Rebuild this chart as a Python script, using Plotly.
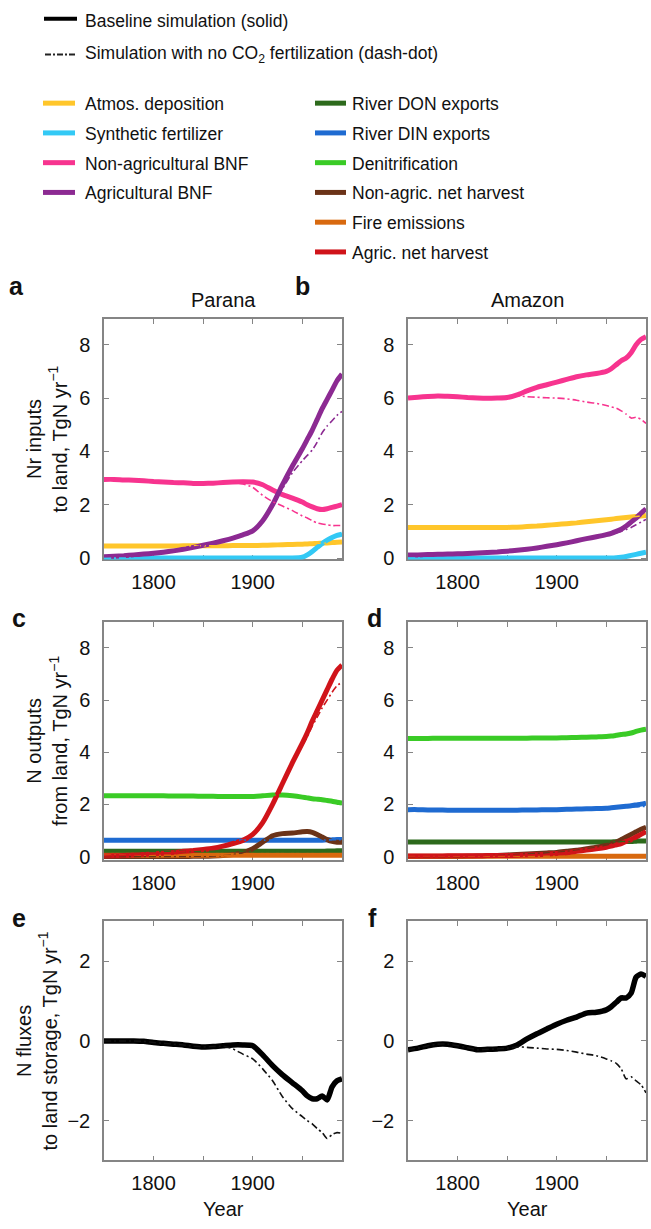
import plotly.graph_objects as go

W, H = 651, 1229

YEARS = [1750, 1760, 1770, 1780, 1790, 1800, 1810, 1820, 1830, 1840, 1850, 1860, 1870, 1880, 1890,
         1900, 1910, 1920, 1930, 1940, 1950, 1955, 1960, 1965, 1970, 1975, 1980, 1985, 1990]

# ---------------- Panel a: Parana inputs ----------------
atm_a = [0.45, 0.45, 0.45, 0.45, 0.45, 0.45, 0.45, 0.45, 0.46, 0.46, 0.46, 0.46, 0.46, 0.47, 0.47,
         0.47, 0.48, 0.49, 0.50, 0.51, 0.52, 0.53, 0.54, 0.55, 0.56, 0.57, 0.58, 0.59, 0.60]
syn_a = [0, 0, 0, 0, 0, 0, 0, 0, 0, 0, 0, 0, 0, 0, 0,
         0, 0, 0, 0, 0, 0.03, 0.12, 0.25, 0.40, 0.55, 0.67, 0.77, 0.85, 0.90]
nbnf_a = [2.95, 2.95, 2.93, 2.92, 2.90, 2.87, 2.85, 2.83, 2.82, 2.80, 2.80, 2.81, 2.83, 2.85, 2.86,
          2.85, 2.75, 2.55, 2.38, 2.25, 2.10, 2.00, 1.92, 1.85, 1.82, 1.85, 1.90, 1.95, 2.00]
nbnf_a_nc = [2.95, 2.95, 2.93, 2.92, 2.90, 2.87, 2.85, 2.83, 2.82, 2.80, 2.80, 2.81, 2.83, 2.84, 2.78,
             2.65, 2.35, 2.12, 1.95, 1.78, 1.58, 1.50, 1.40, 1.32, 1.28, 1.25, 1.22, 1.22, 1.22]
abnf_a = [0.05, 0.07, 0.09, 0.12, 0.15, 0.18, 0.22, 0.27, 0.33, 0.40, 0.48, 0.56, 0.65, 0.75, 0.87,
          1.02, 1.40, 2.00, 2.75, 3.45, 4.10, 4.45, 4.80, 5.20, 5.60, 5.95, 6.30, 6.65, 6.90]
abnf_a_nc = [0.05, 0.07, 0.09, 0.12, 0.15, 0.18, 0.22, 0.27, 0.33, 0.40, 0.48, 0.56, 0.65, 0.75, 0.87,
             1.02, 1.40, 2.00, 2.60, 3.20, 3.65, 3.85, 4.05, 4.35, 4.70, 4.95, 5.15, 5.35, 5.50]

# ---------------- Panel b: Amazon inputs ----------------
atm_b = [1.15, 1.15, 1.15, 1.15, 1.15, 1.15, 1.15, 1.15, 1.15, 1.15, 1.15, 1.16, 1.18, 1.20, 1.23,
         1.26, 1.29, 1.32, 1.36, 1.40, 1.44, 1.46, 1.48, 1.50, 1.52, 1.54, 1.56, 1.58, 1.60]
syn_b = [0, 0, 0, 0, 0, 0, 0, 0, 0, 0, 0, 0, 0, 0, 0,
         0, 0, 0, 0, 0, 0, 0, 0.01, 0.03, 0.06, 0.10, 0.14, 0.18, 0.22]
nbnf_b = [6.00, 6.03, 6.06, 6.08, 6.07, 6.05, 6.02, 6.00, 5.99, 6.00, 6.02, 6.12, 6.27, 6.40, 6.50,
          6.60, 6.70, 6.80, 6.87, 6.92, 7.00, 7.10, 7.25, 7.40, 7.50, 7.70, 8.00, 8.20, 8.30]
nbnf_b_nc = [6.00, 6.03, 6.06, 6.08, 6.07, 6.05, 6.02, 6.00, 5.99, 6.00, 6.02, 6.08, 6.05, 6.03, 6.01,
             6.00, 5.97, 5.92, 5.85, 5.80, 5.72, 5.67, 5.62, 5.52, 5.40, 5.25, 5.28, 5.20, 5.05]
abnf_b = [0.12, 0.12, 0.13, 0.14, 0.15, 0.16, 0.17, 0.19, 0.21, 0.23, 0.26, 0.29, 0.33, 0.38, 0.44,
          0.50, 0.57, 0.65, 0.73, 0.80, 0.88, 0.93, 1.00, 1.08, 1.20, 1.35, 1.50, 1.68, 1.85]
abnf_b_nc = [0.12, 0.12, 0.13, 0.14, 0.15, 0.16, 0.17, 0.19, 0.21, 0.23, 0.26, 0.29, 0.33, 0.38, 0.44,
             0.50, 0.57, 0.65, 0.73, 0.80, 0.88, 0.90, 0.95, 1.00, 1.07, 1.15, 1.25, 1.35, 1.45]

# ---------------- Panel c: Parana outputs ----------------
don_c = [0.20] * 25 + [0.21, 0.21, 0.22, 0.22]
din_c = [0.63] * 25 + [0.64, 0.64, 0.65, 0.65]
den_c = [2.33, 2.33, 2.33, 2.33, 2.33, 2.33, 2.33, 2.32, 2.32, 2.32, 2.31, 2.31, 2.30, 2.30, 2.30,
         2.30, 2.33, 2.36, 2.36, 2.33, 2.28, 2.25, 2.22, 2.20, 2.18, 2.15, 2.12, 2.08, 2.05]
nah_c = [0, 0, 0, 0, 0, 0, 0, 0, 0, 0.01, 0.01, 0.02, 0.04, 0.08, 0.15,
         0.30, 0.55, 0.80, 0.88, 0.90, 0.95, 0.96, 0.93, 0.85, 0.75, 0.65, 0.58, 0.55, 0.55]
fire_c = [0.05] * 29
ah_c = [0.02, 0.03, 0.04, 0.06, 0.08, 0.10, 0.13, 0.16, 0.20, 0.23, 0.27, 0.32, 0.40, 0.50, 0.62,
        0.85, 1.30, 2.00, 2.80, 3.60, 4.35, 4.75, 5.20, 5.60, 6.00, 6.40, 6.80, 7.15, 7.35]
ah_c_nc = [0.02, 0.03, 0.04, 0.06, 0.08, 0.10, 0.13, 0.16, 0.20, 0.23, 0.27, 0.32, 0.40, 0.50, 0.62,
           0.85, 1.30, 2.00, 2.80, 3.55, 4.25, 4.60, 5.00, 5.35, 5.70, 6.00, 6.30, 6.55, 6.70]

# ---------------- Panel d: Amazon outputs ----------------
don_d = [0.56] * 22 + [0.57, 0.57, 0.58, 0.58, 0.59, 0.60, 0.60]
din_d = [1.80, 1.80, 1.79, 1.79, 1.78, 1.78, 1.78, 1.78, 1.78, 1.78, 1.78, 1.78, 1.79, 1.79, 1.80,
         1.80, 1.81, 1.82, 1.83, 1.84, 1.85, 1.87, 1.89, 1.91, 1.93, 1.95, 1.98, 2.01, 2.05]
din_d_nc = din_d[:24] + [1.90, 1.90, 1.91, 1.92, 1.92]
den_d = [4.53, 4.53, 4.53, 4.54, 4.54, 4.54, 4.54, 4.54, 4.54, 4.54, 4.54, 4.54, 4.54, 4.55, 4.55,
         4.55, 4.56, 4.57, 4.58, 4.59, 4.60, 4.62, 4.65, 4.68, 4.70, 4.74, 4.80, 4.85, 4.88]
nah_d = [0, 0, 0, 0, 0, 0, 0.01, 0.02, 0.03, 0.04, 0.06, 0.08, 0.10, 0.12, 0.14,
         0.16, 0.20, 0.24, 0.30, 0.36, 0.44, 0.50, 0.56, 0.65, 0.75, 0.85, 0.95, 1.05, 1.12]
fire_d = [0.01] * 29
ah_d = [0.02, 0.02, 0.02, 0.02, 0.03, 0.03, 0.03, 0.03, 0.04, 0.04, 0.04, 0.05, 0.06, 0.07, 0.09,
        0.12, 0.15, 0.20, 0.25, 0.30, 0.36, 0.40, 0.45, 0.50, 0.58, 0.65, 0.75, 0.85, 0.95]

# ---------------- Panel e/f: net N storage fluxes ----------------
base_e = [0.00, 0.00, 0.00, 0.00, -0.01, -0.04, -0.06, -0.08, -0.10, -0.13, -0.15, -0.14, -0.12, -0.10, -0.10,
          -0.12, -0.35, -0.62, -0.85, -1.05, -1.25, -1.38, -1.45, -1.45, -1.38, -1.48, -1.15, -1.00, -0.95]
nc_e = [0.00, 0.00, 0.00, 0.00, -0.01, -0.04, -0.06, -0.08, -0.10, -0.13, -0.15, -0.14, -0.13, -0.20, -0.33,
        -0.45, -0.70, -1.00, -1.40, -1.70, -1.90, -2.00, -2.08, -2.20, -2.30, -2.45, -2.35, -2.30, -2.32]
base_f = [-0.22, -0.18, -0.12, -0.08, -0.08, -0.12, -0.17, -0.22, -0.21, -0.20, -0.18, -0.10, 0.05, 0.18, 0.30,
          0.42, 0.52, 0.60, 0.70, 0.72, 0.78, 0.86, 0.97, 1.08, 1.08, 1.20, 1.60, 1.68, 1.62]
nc_f = [-0.22, -0.18, -0.12, -0.08, -0.08, -0.12, -0.17, -0.22, -0.21, -0.20, -0.18, -0.15, -0.16, -0.18, -0.20,
        -0.21, -0.24, -0.28, -0.33, -0.37, -0.45, -0.50, -0.56, -0.70, -0.95, -0.90, -1.00, -1.10, -1.30]

# ---------------- Labels / colours ----------------
C = {
    "atm": "#FFC62B", "syn": "#33C9F5", "nbnf": "#F7348F", "abnf": "#8C2A92",
    "don": "#2D6A1C", "din": "#1F6BD1", "den": "#3ACB26", "nah": "#6B3318",
    "fire": "#D8690F", "ah": "#D0141A",
}
LEFT_LEGEND = [("Atmos. deposition", "atm"), ("Synthetic fertilizer", "syn"),
               ("Non-agricultural BNF", "nbnf"), ("Agricultural BNF", "abnf")]
RIGHT_LEGEND = [("River DON exports", "don"), ("River DIN exports", "din"),
                ("Denitrification", "den"), ("Non-agric. net harvest", "nah"),
                ("Fire emissions", "fire"), ("Agric. net harvest", "ah")]
X_MAJOR = [1800, 1900]
X_MINOR = [1850, 1950]

panels = {
    1: [("atm", atm_a, atm_a), ("syn", syn_a, syn_a), ("nbnf", nbnf_a, nbnf_a_nc), ("abnf", abnf_a, abnf_a_nc)],
    2: [("atm", atm_b, atm_b), ("syn", syn_b, syn_b), ("nbnf", nbnf_b, nbnf_b_nc), ("abnf", abnf_b, abnf_b_nc)],
    3: [("don", don_c, don_c), ("din", din_c, din_c), ("den", den_c, den_c), ("nah", nah_c, nah_c),
        ("fire", fire_c, fire_c), ("ah", ah_c, ah_c_nc)],
    4: [("don", don_d, don_d), ("din", din_d, din_d_nc), ("den", den_d, den_d), ("nah", nah_d, nah_d),
        ("fire", fire_d, fire_d), ("ah", ah_d, ah_d)],
    5: [("black", base_e, nc_e)],
    6: [("black", base_f, nc_f)],
}

FONT = "Liberation Sans, Arial, Helvetica, sans-serif"
DASHDOT = "7px,3px,2px,3px"


def px(x):
    return x / W


def py(y):
    return 1 - y / H


fig = go.Figure()
for i, series in panels.items():
    xa = "x" if i == 1 else f"x{i}"
    ya = "y" if i == 1 else f"y{i}"
    for key, solid, _ in series:
        col = "#000000" if key == "black" else C[key]
        fig.add_trace(go.Scatter(x=YEARS, y=solid, mode="lines", xaxis=xa, yaxis=ya,
                                 line=dict(color=col, width=5.5 if key == "black" else 5,
                                           shape="spline", smoothing=0.6),
                                 showlegend=False, hoverinfo="skip"))
    for key, _, nc in series:
        col = "#111111" if key == "black" else C[key]
        fig.add_trace(go.Scatter(x=YEARS, y=nc, mode="lines", xaxis=xa, yaxis=ya,
                                 line=dict(color=col, width=1.6, dash=DASHDOT,
                                           shape="spline", smoothing=0.6),
                                 showlegend=False, hoverinfo="skip"))

cols_px = [(104, 342), (408, 646)]
rows_px = [(322, 564), (627, 867), (929, 1170)]
yranges = [[-0.05, 8.95], [-0.13, 9.0], [-3, 3]]
yticks = [[0, 2, 4, 6, 8], [0, 2, 4, 6, 8], [-2, 0, 2]]

axis_common = dict(showline=True, linecolor="#858585", linewidth=1.5, mirror="ticks",
                   ticks="inside", ticklen=5, tickwidth=1, tickcolor="#858585",
                   showgrid=False, zeroline=False, layer="below traces",
                   tickfont=dict(family=FONT, size=20, color="#111111"))

layout_axes = {}
for i in range(1, 7):
    r = (i - 1) // 2
    c = (i - 1) % 2
    x0, x1 = cols_px[c]
    y0, y1 = rows_px[r]
    xn = "xaxis" if i == 1 else f"xaxis{i}"
    yn = "yaxis" if i == 1 else f"yaxis{i}"
    ya = "y" if i == 1 else f"y{i}"
    xa = "x" if i == 1 else f"x{i}"
    layout_axes[xn] = dict(axis_common, domain=[px(x0), px(x1)], anchor=ya, range=[1750, 1990],
                           tickmode="array", tickvals=X_MAJOR, ticklabelstandoff=4,
                           minor=dict(tickmode="array", tickvals=X_MINOR, ticks="inside", ticklen=5,
                                      tickwidth=1, tickcolor="#858585", showgrid=False))
    layout_axes[yn] = dict(axis_common, domain=[py(y1), py(y0)], anchor=xa, range=yranges[r],
                           tickmode="array", tickvals=yticks[r], ticklabelstandoff=8)

annotations = []


def txt(x, y, s, size=20, bold=False, xanchor="center", yanchor="middle", angle=0, family=FONT):
    annotations.append(dict(x=px(x), y=py(y), xref="paper", yref="paper", text=f"<b>{s}</b>" if bold else s,
                            showarrow=False, xanchor=xanchor, yanchor=yanchor, textangle=angle,
                            font=dict(family=family, size=size, color="#111111")))


# column titles
txt(223, 302, "Parana")
txt(527, 302, "Amazon")
# panel letters
for lt, x, y in [("a", 16, 288), ("b", 302, 288), ("c", 19, 623), ("d", 375, 623), ("e", 19, 926), ("f", 372, 926)]:
    txt(x, y, lt, size=25, bold=True)
# y titles
txt(47, 443, "Nr inputs<br>to land, TgN yr<sup>−1</sup>", angle=-90)
txt(47, 747, "N outputs<br>from land, TgN yr<sup>−1</sup>", angle=-90)
txt(37, 1050, "N fluxes<br>to land storage, TgN yr<sup>−1</sup>", angle=-90)
# x titles
txt(223, 1219, "Year")
txt(527, 1219, "Year")

# legend
LEG = 17.5
shapes = []
shapes.append(dict(type="line", xref="paper", yref="paper", x0=px(44), x1=px(77), y0=py(19), y1=py(19),
                   line=dict(color="#000000", width=4)))
shapes.append(dict(type="line", xref="paper", yref="paper", x0=px(45), x1=px(77), y0=py(55), y1=py(55),
                   line=dict(color="#222222", width=2, dash="6px,2px,2px,2px")))
txt(83, 21, "Baseline simulation (solid)", size=LEG, xanchor="left")
txt(83, 55, "Simulation with no CO<sub>2</sub> fertilization (dash-dot)", size=LEG, xanchor="left")
for k, (label, key) in enumerate(LEFT_LEGEND):
    yy = 104 + k * 30
    shapes.append(dict(type="line", xref="paper", yref="paper", x0=px(43), x1=px(75), y0=py(yy), y1=py(yy),
                       line=dict(color=C[key], width=5)))
    txt(83, yy + 1, label, size=LEG, xanchor="left")
for k, (label, key) in enumerate(RIGHT_LEGEND):
    yy = 104 + k * 30
    shapes.append(dict(type="line", xref="paper", yref="paper", x0=px(315), x1=px(346), y0=py(yy), y1=py(yy),
                       line=dict(color=C[key], width=5)))
    txt(350, yy + 1, label, size=LEG, xanchor="left")

fig.update_layout(width=W, height=H, margin=dict(l=0, r=0, t=0, b=0),
                  paper_bgcolor="white", plot_bgcolor="white", showlegend=False,
                  annotations=annotations, shapes=shapes, **layout_axes)

fig.write_html("out.html", config={"displayModeBar": False},
               post_script="document.body.style.margin='0';document.body.style.overflow='hidden';")
